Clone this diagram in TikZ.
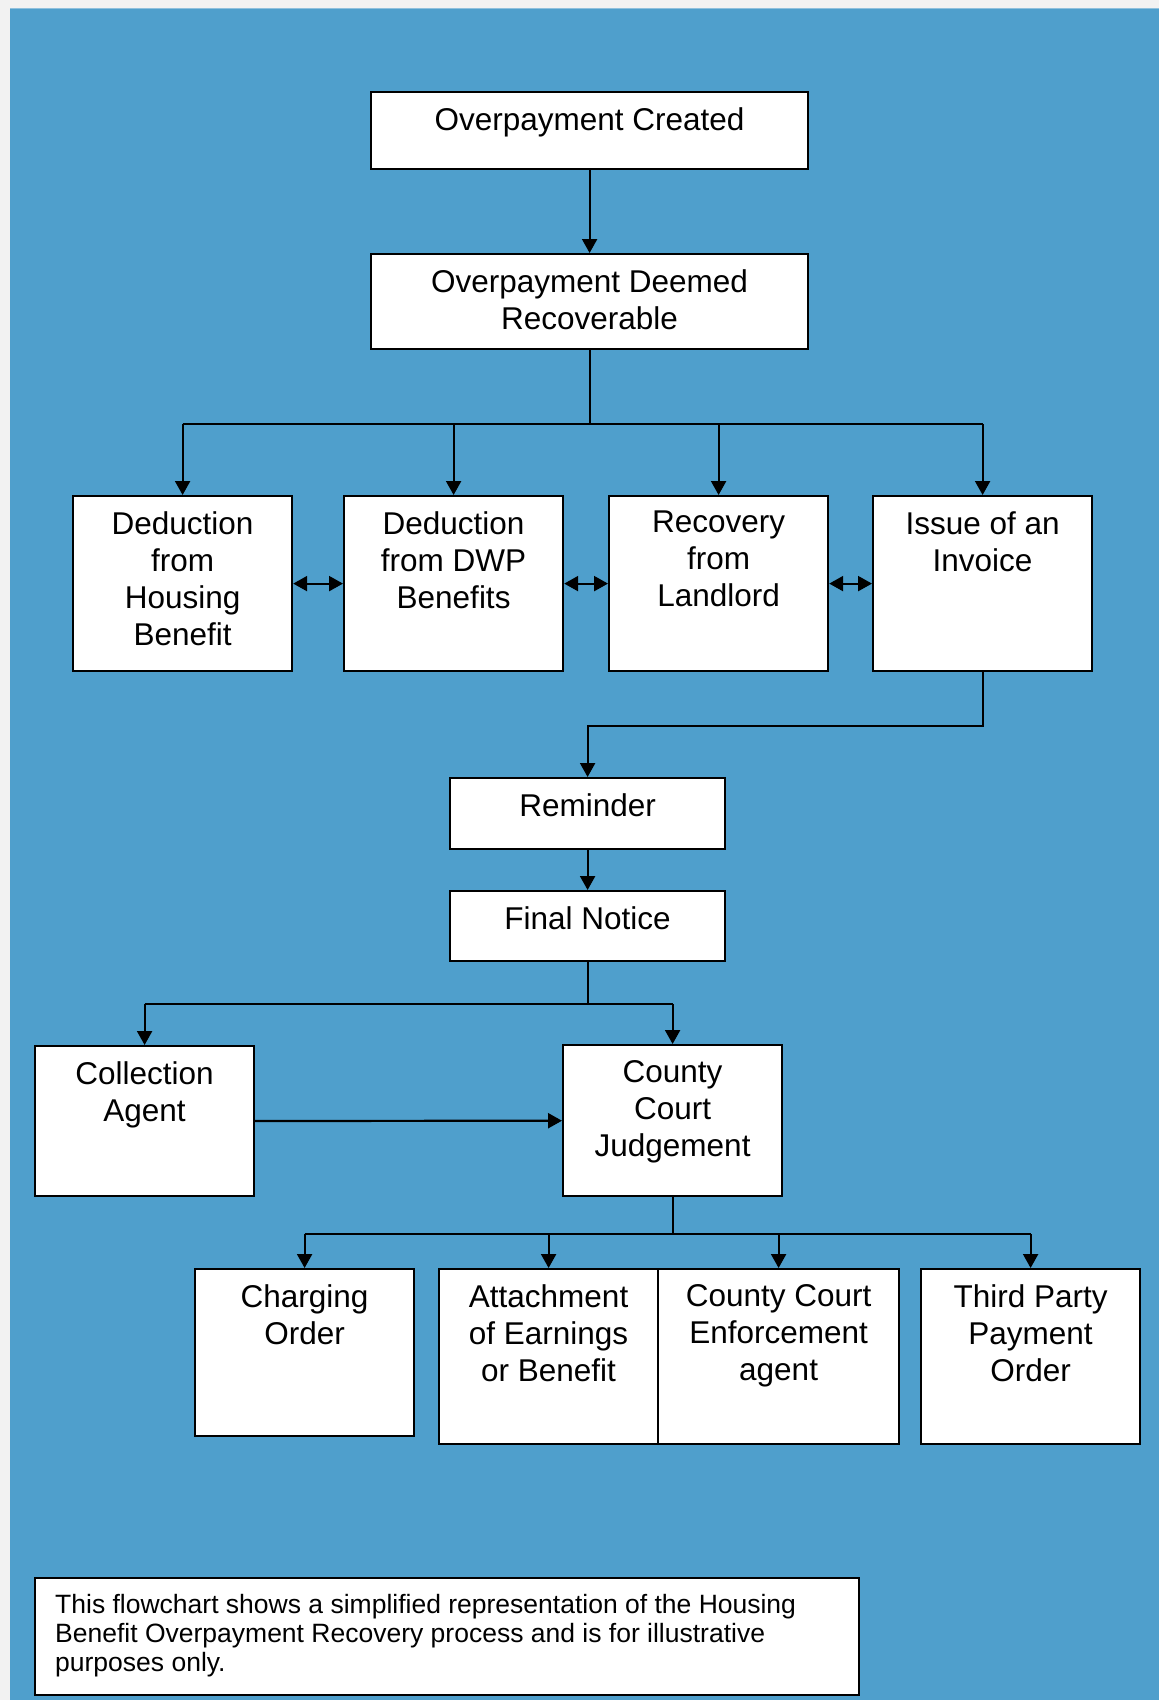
\documentclass[tikz,border=0pt]{standalone}
\usepackage{fontspec}
\setmainfont{Liberation Sans}
\usetikzlibrary{arrows.meta}

\definecolor{pagegray}{HTML}{F2F2F2}
\definecolor{panelblue}{HTML}{4F9FCC}
\definecolor{edgeblue}{HTML}{8FC0DD}
\newcommand{\boxfont}{\fontsize{31.5}{37}\selectfont}
\newcommand{\notefont}{\fontsize{26.5}{29}\selectfont}

\begin{document}
\begin{tikzpicture}[x=1pt, y=-1pt,
  box/.style={draw, fill=white, line width=2.2pt, minimum width=219, minimum height=#1, anchor=north west, inner sep=0},
  box/.default=175,
  boxlabel/.style={anchor=north, align=center, inner sep=0, yshift=-16, font=\boxfont},
  flow/.style={line width=2.2pt},
  flowarrow/.style={flow, -{Triangle[length=14pt,width=15pt]}},
  bothways/.style={flow, {Triangle[length=14pt,width=15pt]}-{Triangle[length=14pt,width=15pt]}}]
  \useasboundingbox (0,0) rectangle (1159,1700);
  % page and panel
  \fill[pagegray] (0,0) rectangle (1159,1700);
  \fill[panelblue] (10,8) rectangle (1159,1700);
  \draw[edgeblue, line width=1pt] (10,8.5) -- (1159,8.5);

  % top of the chart
  \node[box=77, minimum width=437, label={[boxlabel]north:Overpayment Created}] (created) at (370,91) {};
  \node[box=95, minimum width=437, label={[boxlabel]north:Overpayment Deemed\\Recoverable}] (deemed) at (370,253) {};

  % ways of recovery
  \node[box, label={[boxlabel]north:Deduction\\from\\Housing\\Benefit}] (housing) at (72,495) {};
  \node[box, label={[boxlabel]north:Deduction\\from DWP\\Benefits}] (dwp) at (343,495) {};
  \node[box, label={[boxlabel]north:Recovery\\from\\Landlord}] (landlord) at (608,495) {};
  \node[box, label={[boxlabel]north:Issue of an\\Invoice}] (invoice) at (872,495) {};

  % invoice follow up
  \node[box=71, minimum width=275, label={[boxlabel]north:Reminder}] (reminder) at (449,777) {};
  \node[box=70, minimum width=275, label={[boxlabel]north:Final Notice}] (final) at (449,890) {};
  \node[box=150, label={[boxlabel]north:Collection\\Agent}] (agent) at (34,1045) {};
  \node[box=151, label={[boxlabel]north:County\\Court\\Judgement}] (court) at (562,1044) {};

  % enforcement
  \node[box=167, label={[boxlabel]north:Charging\\Order}] (charging) at (194,1268) {};
  \node[box, label={[boxlabel]north:Attachment\\of Earnings\\or Benefit}] (attach) at (438,1268) {};
  \node[box, minimum width=241, label={[boxlabel]north:County Court\\Enforcement\\agent}] (enforce) at (657,1268) {};
  \node[box, label={[boxlabel]north:Third Party\\Payment\\Order}] (thirdparty) at (920,1268) {};

  \node[box=117, minimum width=824, label={[anchor=north west, align=left, inner sep=0, xshift=21, yshift=-17, font=\notefont]north west:This flowchart shows a simplified representation of the Housing\\Benefit Overpayment Recovery process and is for illustrative\\purposes only.}] (note) at (34,1577) {};

  % connectors
  \draw[flowarrow] (created) -- (deemed);
  \draw[flow] (deemed.south) -- ++(0,74) coordinate (split);
  \draw[flow] (housing.north |- split) -- (invoice.north |- split);
  \foreach \way in {housing,dwp,landlord,invoice}
    \draw[flowarrow] (\way.north |- split) -- (\way.north);
  \draw[bothways] (housing) -- (dwp);
  \draw[bothways] (dwp) -- (landlord);
  \draw[bothways] (landlord) -- (invoice);

  \draw[flowarrow] (invoice.south) -- ++(0,54) -| (reminder.north);
  \draw[flowarrow] (reminder) -- (final);
  \draw[flow] (final.south) -- ++(0,42) coordinate (split2);
  \draw[flow] (agent.north |- split2) -- (court.north |- split2);
  \foreach \step in {agent,court}
    \draw[flowarrow] (\step.north |- split2) -- (\step.north);
  \draw[flowarrow] (agent) -- (court);

  \draw[flow] (court.south) -- ++(0,37) coordinate (split3);
  \draw[flow] (charging.north |- split3) -- (thirdparty.north |- split3);
  \foreach \order in {charging,attach,enforce,thirdparty}
    \draw[flowarrow] (\order.north |- split3) -- (\order.north);
\end{tikzpicture}
\end{document}
